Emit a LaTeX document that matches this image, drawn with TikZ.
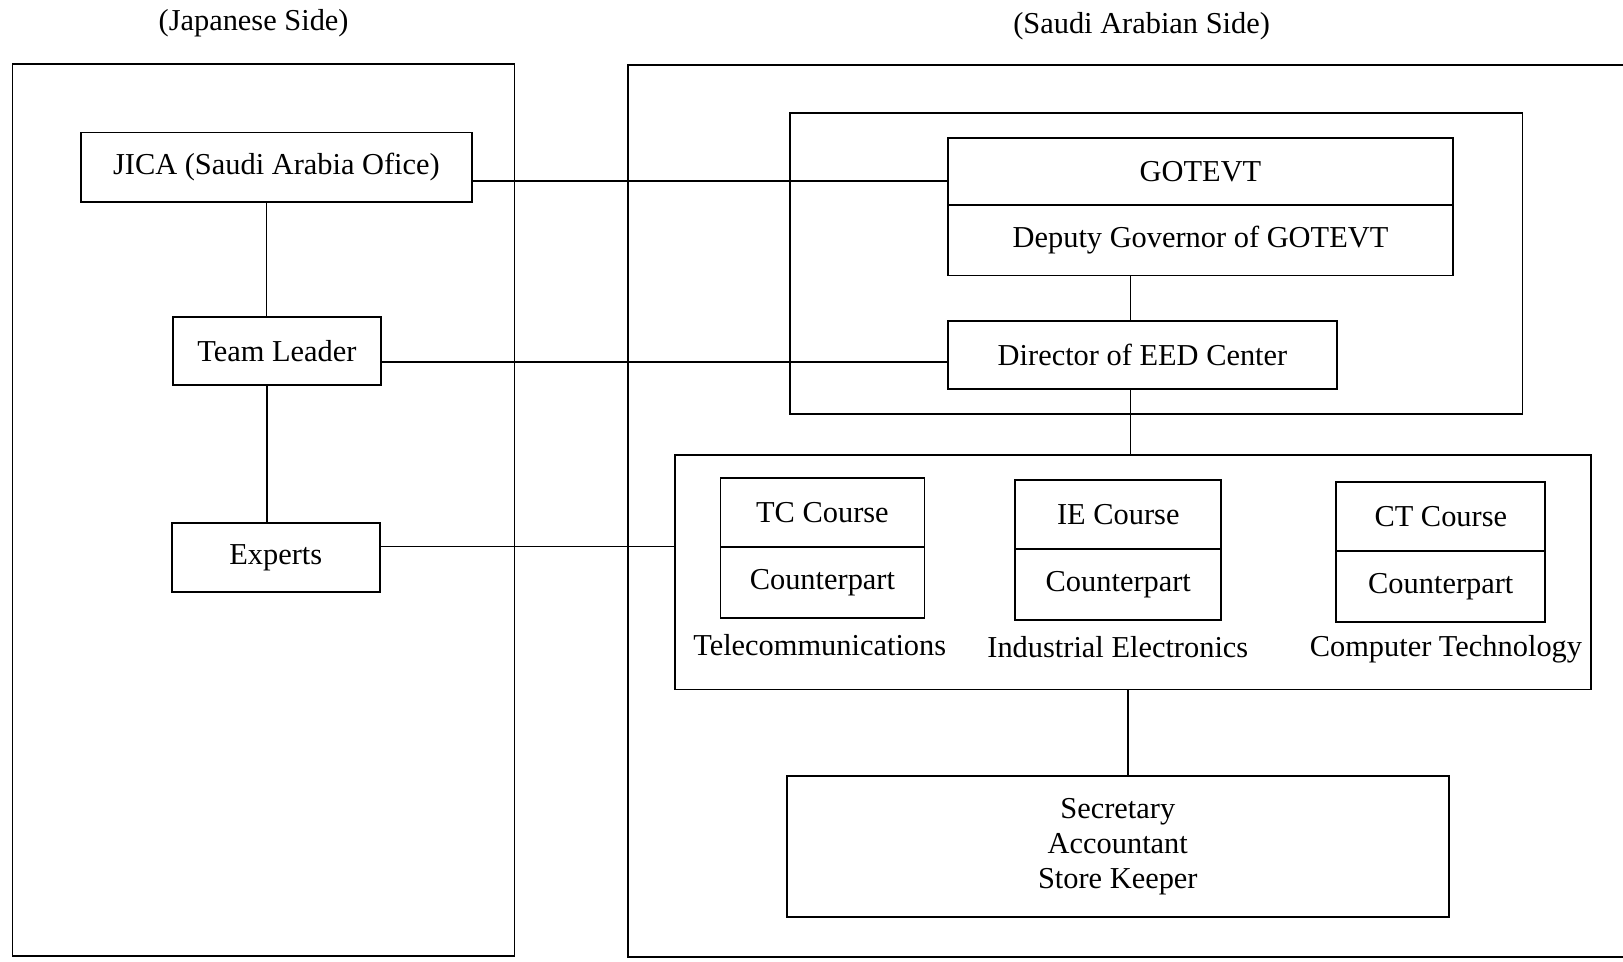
\documentclass[tikz,border=0pt]{standalone}
\usepackage{fontspec}
\setmainfont{Liberation Serif}
\usetikzlibrary{positioning}

\begin{document}
\begin{tikzpicture} [x=0.5pt, y=-0.5pt,
		every node/.style={inner sep=0pt, outer sep=0pt, font=\fontsize{15.2}{17.5}\selectfont, rectangle},
		box/.style={draw=black, line width=0.9pt},
		frame/.style={draw=black, line width=0.9pt, anchor=north west},
		halfbox/.style={draw=black, line width=0.9pt, minimum height=34.5pt},
		link/.style={draw=black, line width=0.8pt}
	]
	\useasboundingbox (0,0) rectangle (1623,962);

	% the two sides
	\node (jpside) at (253.6,22.8) {(Japanese Side)};
	\node (saside) at (1141.6,25.9) {(Saudi Arabian Side)};
	\node (jpframe) [frame, minimum width=251pt, minimum height=446pt] at (12.4,64.2) {};
	\node (saframe) [frame, minimum width=525pt, minimum height=446pt] at (628.3,65.2) {};

	% japanese side
	\node (jica) [box, minimum width=195.6pt, minimum height=34.7pt] at (276.4,167.2) {JICA (Saudi Arabia Ofice)};
	\node (lead) [box, minimum width=104pt, minimum height=34.2pt] at (276.9,350.9) {Team Leader};
	\node (exp) [box, minimum width=104pt, minimum height=34.7pt] at (275.8,557.4) {Experts};

	% saudi side
	\node (gotframe) [frame, minimum width=366.4pt, minimum height=150.6pt] at (789.7,112.8) {};
	\node (gotevt) [box, minimum width=252.5pt, minimum height=33.7pt] at (1200.5,171.4) {GOTEVT};
	\node (deputy) [box, minimum width=252.5pt, minimum height=35.2pt, below=0pt of gotevt] {Deputy Governor of GOTEVT};
	\node (dir) [box, minimum width=194.5pt, minimum height=34.2pt] at (1142.5,355) {Director of EED Center};

	\node (courses) [frame, minimum width=458pt, minimum height=117pt] at (674.8,455.4) {};
	\node (tc) [halfbox, minimum width=102pt] at (822.4,512.4) {TC Course};
	\node (tccp) [halfbox, minimum width=102pt, minimum height=35.7pt, below=0pt of tc] {Counterpart};
	\node (ie) [halfbox, minimum width=103pt] at (1118.3,514.4) {IE Course};
	\node (iecp) [halfbox, minimum width=103pt, minimum height=35.7pt, below=0pt of ie] {Counterpart};
	\node (ct) [halfbox, minimum width=104.5pt] at (1440.8,516.4) {CT Course};
	\node (ctcp) [halfbox, minimum width=104.5pt, minimum height=35.7pt, below=0pt of ct] {Counterpart};
	\node (tclbl) at (819.7,644.8) {Telecommunications};
	\node (ielbl) at (1117.8,646.9) {Industrial Electronics};
	\node (ctlbl) at (1445.9,649) {Computer Technology};

	\node (sec) [box, minimum width=331.2pt, minimum height=70.4pt, align=center] at (1117.8,846.7) {Secretary\\Accountant\\Store Keeper};

	% connectors
	\draw[link] ([xshift=-5pt]jica.south) -- ([xshift=-5pt]jica.south |- lead.north);
	\draw[link] ([xshift=-5pt]lead.south) -- ([xshift=-5pt]lead.south |- exp.north);
	\draw[link] ([yshift=-7pt]jica.east) -- ([yshift=-7pt]jica.east -| gotevt.west);
	\draw[link] ([yshift=-5.5pt]lead.east) -- ([yshift=-5.5pt]lead.east -| dir.west);
	\draw[link] ([yshift=5.5pt]exp.east) -- ([yshift=5.5pt]exp.east -| courses.west);
	\draw[link] ([xshift=-6pt]dir.north) -- ([xshift=-6pt]dir.north |- deputy.south);
	\draw[link] ([xshift=-6pt]dir.south) -- ([xshift=-6pt]dir.south |- courses.north);
	\draw[link] ([xshift=5pt]sec.north) -- ([xshift=5pt]sec.north |- courses.south);

\end{tikzpicture}
\end{document}
